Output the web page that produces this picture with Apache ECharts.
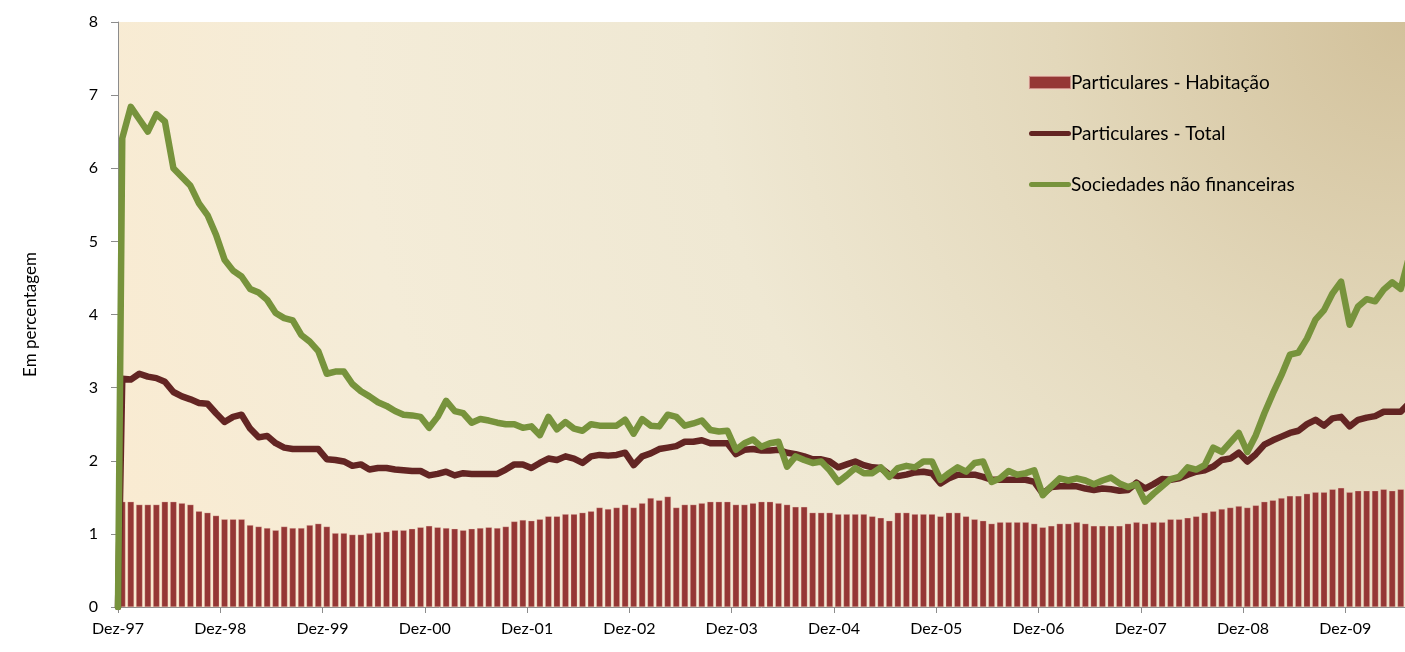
<!DOCTYPE html>
<html>
<head>
<meta charset="utf-8">
<script src="https://cdn.jsdelivr.net/npm/echarts@6/dist/echarts.min.js"></script>
<style>
  html, body { margin: 0; padding: 0; background: #fff; }
  #main { width: 1405px; height: 652px; }
</style>
</head>
<body>
<div id="main"></div>
<script>
// monthly values, Jan-98 onwards (index 0), one per month
var tickLabels = ['Dez-97', 'Dez-98', 'Dez-99', 'Dez-00', 'Dez-01', 'Dez-02', 'Dez-03',
  'Dez-04', 'Dez-05', 'Dez-06', 'Dez-07', 'Dez-08', 'Dez-09'];

var habitacao = [
  1.44, 1.44, 1.40, 1.40, 1.40, 1.44, 1.44, 1.42, 1.40, 1.31, 1.29, 1.25, 1.20, 1.20,
  1.20, 1.12, 1.10, 1.08, 1.05, 1.10, 1.08, 1.08, 1.12, 1.14, 1.10, 1.01, 1.01, 0.99,
  0.99, 1.01, 1.02, 1.03, 1.05, 1.05, 1.07, 1.09, 1.11, 1.09, 1.08, 1.07, 1.05, 1.07,
  1.08, 1.09, 1.08, 1.10, 1.17, 1.19, 1.18, 1.20,
  1.24, 1.24, 1.27, 1.27, 1.29, 1.31, 1.36, 1.34, 1.36, 1.40, 1.36, 1.42, 1.49, 1.46,
  1.51, 1.36, 1.40, 1.40, 1.42, 1.44, 1.44, 1.44, 1.40, 1.40, 1.42, 1.44, 1.44, 1.42,
  1.40, 1.37, 1.37, 1.29, 1.29, 1.29, 1.27, 1.27,
  1.27, 1.27, 1.24, 1.22, 1.18, 1.29, 1.29, 1.27, 1.27, 1.27, 1.24, 1.29, 1.29, 1.24,
  1.20, 1.18, 1.14, 1.16, 1.16, 1.16, 1.16, 1.14, 1.09, 1.11, 1.14, 1.14, 1.16, 1.14,
  1.11, 1.11, 1.11, 1.11, 1.14, 1.16, 1.14, 1.16, 1.16, 1.20, 1.20, 1.22, 1.24, 1.29,
  1.31, 1.34, 1.36, 1.38, 1.36, 1.39, 1.44, 1.46, 1.49, 1.52, 1.52, 1.55, 1.57, 1.57,
  1.61, 1.63, 1.57, 1.59, 1.59, 1.59, 1.61, 1.59, 1.61
];

var particularesTotal = [
  3.12, 3.11, 3.19, 3.15, 3.13, 3.08, 2.94, 2.88, 2.84, 2.79, 2.78, 2.65, 2.53, 2.60,
  2.63, 2.44, 2.32, 2.34, 2.24, 2.18, 2.16, 2.16, 2.16, 2.16, 2.02, 2.01, 1.99, 1.93,
  1.95, 1.88, 1.90, 1.90, 1.88, 1.87, 1.86, 1.86, 1.80, 1.82, 1.85, 1.80, 1.83, 1.82,
  1.82, 1.82, 1.82, 1.88, 1.95, 1.95, 1.90, 1.97,
  2.03, 2.01, 2.06, 2.03, 1.97, 2.06, 2.08, 2.07, 2.08, 2.11, 1.94, 2.06, 2.10, 2.16,
  2.18, 2.20, 2.26, 2.26, 2.28, 2.24, 2.24, 2.24, 2.09, 2.15, 2.16, 2.14, 2.14, 2.15,
  2.11, 2.09, 2.06, 2.02, 2.02, 1.99,
  1.91, 1.95, 1.99, 1.94, 1.91, 1.90, 1.81, 1.79, 1.81, 1.84, 1.85, 1.83, 1.69, 1.76,
  1.81, 1.81, 1.81, 1.78, 1.74, 1.74, 1.74, 1.74, 1.74, 1.71, 1.55, 1.64, 1.65, 1.65,
  1.65, 1.62, 1.60, 1.62, 1.61, 1.59, 1.60, 1.70, 1.62, 1.68, 1.75, 1.74, 1.76, 1.81,
  1.85, 1.87,
  1.92, 2.01, 2.03, 2.11, 1.99, 2.09, 2.22, 2.28, 2.33, 2.38, 2.41, 2.50, 2.56, 2.48,
  2.58, 2.60, 2.47, 2.56, 2.59, 2.61, 2.67, 2.67, 2.67, 2.79
];

var sociedades = [
  6.41, 6.84, 6.67, 6.50, 6.74, 6.64, 6.00, 5.88, 5.76, 5.52, 5.36, 5.09, 4.75, 4.60,
  4.52, 4.35, 4.30, 4.20, 4.02, 3.95, 3.92, 3.72, 3.63, 3.50, 3.19, 3.22, 3.22, 3.05,
  2.95, 2.88, 2.80, 2.75, 2.68, 2.63, 2.62, 2.60, 2.45, 2.60, 2.82, 2.68, 2.65, 2.52,
  2.57, 2.55, 2.52, 2.50, 2.50, 2.45, 2.47, 2.35,
  2.60, 2.43, 2.53, 2.44, 2.41, 2.50, 2.48, 2.48, 2.48, 2.56, 2.37, 2.57, 2.48, 2.47,
  2.63, 2.60, 2.48, 2.51, 2.55, 2.42, 2.40, 2.41, 2.15, 2.24, 2.29, 2.19, 2.24, 2.26,
  1.92, 2.06, 2.01, 1.97, 1.99, 1.87,
  1.71, 1.80, 1.90, 1.83, 1.83, 1.91, 1.78, 1.90, 1.93, 1.91, 1.99, 1.99, 1.74, 1.83,
  1.91, 1.85, 1.97, 1.99, 1.71, 1.76, 1.86, 1.81, 1.83, 1.87, 1.53, 1.65, 1.76, 1.73,
  1.76, 1.73, 1.68, 1.73, 1.77, 1.69, 1.64, 1.68, 1.44, 1.55, 1.65, 1.75, 1.78, 1.91,
  1.88, 1.94,
  2.18, 2.12, 2.25, 2.38, 2.12, 2.35, 2.65, 2.92, 3.17, 3.45, 3.48, 3.67, 3.93, 4.06,
  4.29, 4.45, 3.86, 4.11, 4.21, 4.18, 4.34, 4.44, 4.35, 4.80
];

var FONT = 'Lato';
var MONTHS = 151;

// month k sits in the middle of its slot; lines start from the axis at zero
function toPoints(arr, withStart) {
  var pts = withStart ? [[0, 0]] : [];
  arr.forEach(function (v, k) { pts.push([k + 0.5, v]); });
  return pts;
}

var tickValues = tickLabels.map(function (_, i) { return i * 12; });

// legend swatch for the lines: thick rounded stroke inside a 42x13 box
var lineIcon = 'path://M0,0M42,13M2.5,4H39.5A2.5,2.5,0,0,1,39.5,9H2.5A2.5,2.5,0,0,1,2.5,4Z';

var chart = echarts.init(document.getElementById('main'), null, { renderer: 'canvas' });

var option = {
  backgroundColor: '#ffffff',
  animation: false,
  textStyle: { fontFamily: FONT },
  grid: {
    left: 118, right: 0, top: 22, bottom: 45,
    show: true,
    borderWidth: 0,
    backgroundColor: new echarts.graphic.RadialGradient(1, 0, 2.4, [
      { offset: 0, color: '#d2c19b' },
      { offset: 0.25, color: '#e3d8bb' },
      { offset: 0.5, color: '#efe8d3' },
      { offset: 0.75, color: '#f4ecd8' },
      { offset: 1, color: '#faebd1' }
    ])
  },
  legend: {
    orient: 'vertical',
    left: 1023,
    top: 68,
    itemWidth: 42,
    itemHeight: 13,
    itemGap: 32,
    textStyle: { fontFamily: FONT, fontSize: 19, color: '#000', padding: [0, 0, 0, -5] },
    data: [
      { name: 'Particulares - Habitação', icon: 'rect' },
      { name: 'Particulares - Total', icon: lineIcon },
      { name: 'Sociedades não financeiras', icon: lineIcon }
    ]
  },
  xAxis: {
    type: 'value',
    min: 0,
    max: MONTHS,
    splitLine: { show: false },
    axisLine: { show: true, lineStyle: { color: '#8c8c8c', width: 1 } },
    axisTick: { show: true, length: 6, customValues: tickValues, lineStyle: { color: '#8c8c8c' } },
    axisLabel: {
      customValues: tickValues,
      margin: 14,
      fontFamily: FONT,
      fontSize: 16,
      color: '#000',
      formatter: function (v) { return tickLabels[Math.round(v / 12)] || ''; }
    }
  },
  yAxis: {
    type: 'value',
    min: 0,
    max: 8,
    interval: 1,
    name: 'Em percentagem',
    nameLocation: 'middle',
    nameRotate: 90,
    nameGap: 79,
    nameTextStyle: { fontFamily: FONT, fontSize: 17, color: '#000' },
    splitLine: { show: false },
    axisLine: { show: true, lineStyle: { color: '#8c8c8c', width: 1 } },
    axisTick: { show: true, inside: false, length: 7, lineStyle: { color: '#8c8c8c' } },
    axisLabel: { margin: 20, fontFamily: FONT, fontSize: 16, color: '#000' }
  },
  series: [
    {
      name: 'Particulares - Habitação',
      type: 'bar',
      barWidth: 6.5,
      itemStyle: { color: '#953735', borderColor: 'rgba(240,205,190,0.6)', borderWidth: 0.5 },
      data: toPoints(habitacao, false)
    },
    {
      name: 'Particulares - Total',
      type: 'line',
      symbol: 'none',
      lineStyle: { color: '#632523', width: 6.5, cap: 'round', join: 'round' },
      itemStyle: { color: '#632523' },
      data: toPoints(particularesTotal, true)
    },
    {
      name: 'Sociedades não financeiras',
      type: 'line',
      symbol: 'none',
      lineStyle: { color: '#77933c', width: 6.5, cap: 'round', join: 'round' },
      itemStyle: { color: '#77933c' },
      data: toPoints(sociedades, true)
    }
  ]
};

chart.setOption(option);
</script>
</body>
</html>
